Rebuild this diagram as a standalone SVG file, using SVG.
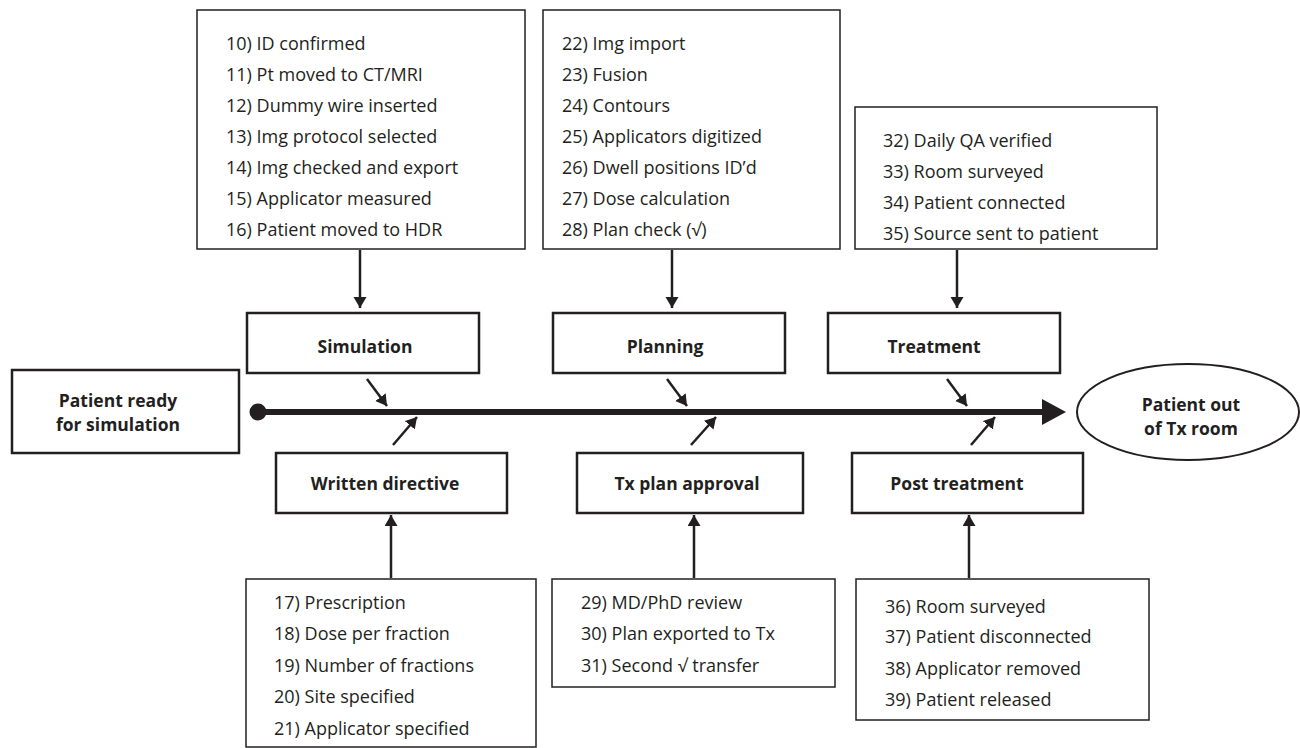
<svg xmlns="http://www.w3.org/2000/svg" width="1300" height="748" viewBox="0 0 1300 748">
  <style>
    .detail { fill: #fff; stroke: #231f20; stroke-width: 1.5; }
    .stage { fill: #fff; stroke: #231f20; stroke-width: 2.5; }
    .item { font-family: "Open Sans", "Liberation Sans", sans-serif; font-size: 18px; fill: #231f20; }
    .label { font-family: "Open Sans", "Liberation Sans", sans-serif; font-size: 17.5px; font-weight: bold; fill: #231f20; text-anchor: middle; }
    .conn { stroke: #231f20; stroke-width: 2.5; fill: none; marker-end: url(#head); }
  </style>
  <defs>
    <marker id="head" markerUnits="userSpaceOnUse" markerWidth="14" markerHeight="14" refX="11" refY="6.5" orient="auto">
      <path d="M0,0 L11,6.5 L0,13 Z" fill="#231f20"/>
    </marker>
  </defs>
  <rect width="1300" height="748" fill="#fff"/>

  <!-- start / end -->
  <g id="patient-ready">
    <rect class="stage" x="12" y="370" width="227" height="83"/>
    <text class="label" x="118" y="407">Patient ready</text>
    <text class="label" x="118" y="431">for simulation</text>
  </g>
  <g id="patient-out">
    <ellipse cx="1188" cy="412" rx="111" ry="48" fill="#fff" stroke="#231f20" stroke-width="2"/>
    <text class="label" x="1191" y="411">Patient out</text>
    <text class="label" x="1191" y="435">of Tx room</text>
  </g>

  <!-- top detail lists -->
  <g id="simulation-steps">
    <rect class="detail" x="197" y="10" width="328" height="239"/>
    <text class="item" x="226" y="50">10) ID confirmed</text>
    <text class="item" x="226" y="81">11) Pt moved to CT/MRI</text>
    <text class="item" x="226" y="112">12) Dummy wire inserted</text>
    <text class="item" x="226" y="143">13) Img protocol selected</text>
    <text class="item" x="226" y="174">14) Img checked and export</text>
    <text class="item" x="226" y="205">15) Applicator measured</text>
    <text class="item" x="226" y="236">16) Patient moved to HDR</text>
  </g>
  <g id="planning-steps">
    <rect class="detail" x="543" y="10" width="297" height="239"/>
    <text class="item" x="562" y="50">22) Img import</text>
    <text class="item" x="562" y="81">23) Fusion</text>
    <text class="item" x="562" y="112">24) Contours</text>
    <text class="item" x="562" y="143">25) Applicators digitized</text>
    <text class="item" x="562" y="174">26) Dwell positions ID’d</text>
    <text class="item" x="562" y="205">27) Dose calculation</text>
    <text class="item" x="562" y="236">28) Plan check (√)</text>
  </g>
  <g id="treatment-steps">
    <rect class="detail" x="855" y="107" width="302" height="142"/>
    <text class="item" x="883" y="147">32) Daily QA verified</text>
    <text class="item" x="883" y="178">33) Room surveyed</text>
    <text class="item" x="883" y="209">34) Patient connected</text>
    <text class="item" x="883" y="240">35) Source sent to patient</text>
  </g>

  <!-- stages above the line -->
  <g id="simulation">
    <rect class="stage" x="247" y="313" width="232" height="60"/>
    <text class="label" x="365" y="353">Simulation</text>
  </g>
  <g id="planning">
    <rect class="stage" x="553" y="313" width="232" height="60"/>
    <text class="label" x="665" y="353">Planning</text>
  </g>
  <g id="treatment">
    <rect class="stage" x="828" y="313" width="232" height="60"/>
    <text class="label" x="934" y="353">Treatment</text>
  </g>

  <!-- stages below the line -->
  <g id="written-directive">
    <rect class="stage" x="276" y="453" width="231" height="60"/>
    <text class="label" x="385" y="490">Written directive</text>
  </g>
  <g id="tx-plan-approval">
    <rect class="stage" x="577" y="453" width="226" height="60"/>
    <text class="label" x="687" y="490">Tx plan approval</text>
  </g>
  <g id="post-treatment">
    <rect class="stage" x="852" y="453" width="231" height="60"/>
    <text class="label" x="957" y="490">Post treatment</text>
  </g>

  <!-- bottom detail lists -->
  <g id="directive-steps">
    <rect class="detail" x="246" y="579" width="290" height="168"/>
    <text class="item" x="274" y="609">17) Prescription</text>
    <text class="item" x="274" y="640">18) Dose per fraction</text>
    <text class="item" x="274" y="672">19) Number of fractions</text>
    <text class="item" x="274" y="703">20) Site specified</text>
    <text class="item" x="274" y="735">21) Applicator specified</text>
  </g>
  <g id="approval-steps">
    <rect class="detail" x="552" y="579" width="283" height="108"/>
    <text class="item" x="581" y="609">29) MD/PhD review</text>
    <text class="item" x="581" y="640">30) Plan exported to Tx</text>
    <text class="item" x="581" y="672">31) Second √ transfer</text>
  </g>
  <g id="post-steps">
    <rect class="detail" x="856" y="579" width="293" height="141"/>
    <text class="item" x="885" y="613">36) Room surveyed</text>
    <text class="item" x="885" y="643">37) Patient disconnected</text>
    <text class="item" x="885" y="675">38) Applicator removed</text>
    <text class="item" x="885" y="706">39) Patient released</text>
  </g>

  <!-- connectors -->
  <g id="connectors">
    <!-- main timeline -->
    <circle cx="258" cy="412" r="8.5" fill="#231f20"/>
    <line x1="258" y1="412" x2="1046" y2="412" stroke="#231f20" stroke-width="6"/>
    <polygon points="1042,399 1066,412 1042,425" fill="#231f20"/>

    <!-- lists into stages -->
    <line class="conn" x1="360" y1="250" x2="360" y2="308"/>
    <line class="conn" x1="672" y1="250" x2="672" y2="308"/>
    <line class="conn" x1="957" y1="250" x2="957" y2="308"/>
    <line class="conn" x1="391" y1="578" x2="391" y2="515"/>
    <line class="conn" x1="694" y1="578" x2="694" y2="515"/>
    <line class="conn" x1="969" y1="578" x2="969" y2="515"/>

    <!-- stages onto the timeline -->
    <line class="conn" x1="367" y1="379" x2="387" y2="406"/>
    <line class="conn" x1="667" y1="379" x2="687" y2="406"/>
    <line class="conn" x1="947" y1="379" x2="967" y2="406"/>
    <line class="conn" x1="393" y1="445" x2="417" y2="417"/>
    <line class="conn" x1="691" y1="445" x2="716" y2="417"/>
    <line class="conn" x1="971" y1="445" x2="995" y2="417"/>
  </g>
</svg>
